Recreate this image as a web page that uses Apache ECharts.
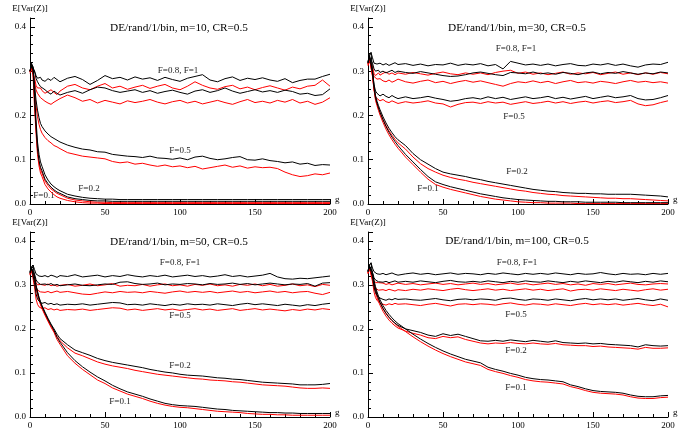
<!DOCTYPE html>
<html>
<head>
<meta charset="utf-8">
<script src="https://cdn.jsdelivr.net/npm/echarts@6/dist/echarts.min.js"></script>
<style>html,body{margin:0;padding:0;background:#fff}#c{width:697px;height:432px}</style>
</head>
<body>
<div id="c"></div>
<script>
// generation g (x values shared by all lines)
const G = [0,1,2,3,4,5,6,7,8,10,12,14,16,18,20,
  25,30,35,40,45,50,55,60,65,70,75,80,85,90,95,100,105,110,115,120,125,130,135,140,145,150,155,160,165,170,175,180,185,190,195,200];

const panelTitles = ['DE/rand/1/bin, m=10, CR=0.5','DE/rand/1/bin, m=30, CR=0.5','DE/rand/1/bin, m=50, CR=0.5','DE/rand/1/bin, m=100, CR=0.5'];
const yTickLabels = ['0.0','0.1','0.2','0.3','0.4'];
const xTickLabels = ['0','50','100','150','200'];

// ---------- m = 10 ----------
const m10_F1_black = [.300,.312,.316,.300,.290,.284,.282,.286,.280,.277,.283,.279,.286,.281,.276,
  .284,.288,.281,.270,.279,.290,.283,.286,.280,
  .287,.282,.285,.279,.286,.281,.277,.284,.288,
  .292,.280,.276,.283,.287,.279,.284,.281,.285,
  .280,.277,.283,.274,.279,.282,.282,.288,.293];
const m10_F1_red = [.300,.310,.306,.285,.268,.262,.258,.262,.256,.250,.254,.258,.252,.247,.255,
  .266,.270,.262,.258,.266,.272,.262,.266,.259,
  .264,.268,.261,.266,.270,.262,.258,.266,.276,
  .268,.262,.259,.265,.268,.260,.264,.258,.263,
  .267,.262,.257,.264,.260,.266,.268,.280,.266];
const m10_F08_black = [.300,.316,.318,.300,.284,.276,.270,.265,.262,.258,.252,.248,.255,.250,.246,
  .252,.256,.250,.258,.264,.262,.256,.252,.255,
  .258,.252,.256,.250,.254,.257,.252,.248,.255,
  .258,.252,.256,.262,.255,.250,.254,.258,.253,
  .256,.252,.257,.254,.248,.250,.245,.247,.260];
const m10_F08_red = [.298,.305,.300,.275,.258,.250,.246,.240,.236,.232,.228,.225,.230,.234,.238,
  .246,.240,.232,.236,.228,.234,.230,.226,.233,
  .229,.232,.236,.230,.226,.231,.234,.228,.232,
  .226,.230,.234,.229,.225,.231,.236,.229,.232,
  .228,.234,.230,.236,.228,.232,.225,.230,.240];
const m10_F05_black = [.300,.312,.305,.270,.235,.212,.195,.182,.175,.165,.158,.152,.148,.144,.140,
  .133,.128,.124,.122,.118,.117,.112,.110,.108,
  .107,.105,.108,.104,.103,.101,.104,.100,.106,
  .108,.103,.100,.102,.105,.107,.100,.099,.102,
  .098,.096,.093,.095,.090,.092,.087,.089,.088];
const m10_F05_red = [.298,.308,.300,.260,.222,.197,.180,.168,.160,.150,.143,.138,.132,.129,.125,
  .116,.112,.108,.106,.104,.102,.096,.093,.095,
  .090,.092,.088,.085,.088,.084,.086,.082,.085,
  .079,.082,.085,.088,.083,.086,.081,.084,.082,
  .083,.080,.072,.066,.062,.064,.068,.066,.070];
const m10_F02_black = [.300,.315,.310,.250,.190,.140,.112,.095,.085,.066,.054,.045,.039,.034,.030,
  .022,.018,.015,.013,.012,.011,.011,.010,.010,
  .010,.010,.010,.010,.010,.010,.010,.010,.010,
  .010,.010,.010,.010,.010,.010,.010,.010,.010,
  .010,.010,.010,.010,.010,.010,.010,.010,.010];
const m10_F02_red = [.298,.310,.300,.235,.172,.122,.094,.078,.070,.052,.042,.034,.029,.024,.021,
  .013,.009,.007,.005,.004,.004,.003,.003,.003,
  .003,.003,.003,.003,.003,.003,.003,.003,.003,
  .003,.003,.003,.003,.003,.003,.003,.003,.003,
  .003,.003,.003,.003,.003,.003,.003,.003,.003];
const m10_F01_black = [.300,.318,.308,.240,.175,.125,.098,.083,.075,.056,.046,.038,.032,.027,.024,
  .016,.012,.010,.008,.007,.007,.006,.006,.006,
  .006,.006,.006,.006,.006,.006,.006,.006,.006,
  .006,.006,.006,.006,.006,.006,.006,.006,.006,
  .006,.006,.006,.006,.006,.006,.006,.006,.006];
const m10_F01_red = [.295,.305,.292,.220,.160,.112,.086,.070,.062,.044,.034,.027,.021,.016,.013,
  .008,.005,.003,.002,.002,.001,.001,.001,.001,
  .001,.001,.001,.001,.001,.001,.001,.001,.001,
  .001,.001,.001,.001,.001,.001,.001,.001,.001,
  .001,.001,.001,.001,.001,.001,.001,.001,.001];

// ---------- m = 30 ----------
const m30_F1_black = [.320,.336,.342,.330,.318,.314,.316,.312,.318,.314,.317,.313,.316,.319,.315,
  .317,.313,.316,.312,.315,.314,.318,.313,.316,
  .314,.317,.312,.315,.305,.322,.318,.314,.316,
  .313,.316,.312,.315,.317,.313,.312,.316,.314,
  .317,.313,.316,.312,.309,.314,.316,.315,.320];
const m30_F1_red = [.316,.328,.330,.310,.295,.290,.293,.296,.291,.295,.298,.293,.296,.292,.296,
  .293,.297,.294,.291,.295,.298,.294,.292,.296,
  .293,.296,.292,.297,.300,.302,.295,.298,.293,
  .296,.292,.295,.298,.293,.296,.294,.297,.292,
  .295,.298,.293,.296,.292,.296,.293,.297,.294];
const m30_F08_black = [.318,.332,.335,.318,.305,.300,.298,.302,.297,.300,.296,.299,.302,.297,.300,
  .297,.295,.299,.296,.293,.290,.288,.289,.292,
  .296,.298,.295,.292,.290,.297,.296,.294,.298,
  .294,.296,.293,.297,.295,.292,.296,.298,.294,
  .297,.295,.299,.296,.293,.296,.294,.298,.296];
const m30_F08_red = [.312,.325,.322,.300,.288,.284,.282,.279,.283,.278,.276,.280,.275,.278,.282,
  .276,.273,.277,.280,.274,.277,.272,.276,.279,
  .275,.278,.274,.270,.266,.272,.276,.274,.278,
  .274,.277,.272,.276,.279,.274,.276,.273,.277,
  .275,.272,.276,.279,.275,.277,.274,.276,.273];
const m30_F05_black = [.318,.334,.338,.300,.270,.255,.250,.246,.244,.248,.243,.240,.245,.241,.238,
  .242,.238,.240,.243,.239,.236,.232,.234,.238,
  .240,.237,.242,.238,.241,.236,.239,.242,.238,
  .240,.243,.238,.241,.237,.240,.243,.238,.241,
  .244,.240,.242,.245,.238,.235,.236,.240,.245];
const m30_F05_red = [.314,.328,.330,.290,.258,.243,.238,.235,.233,.236,.231,.229,.233,.230,.227,
  .231,.228,.230,.233,.228,.226,.219,.225,.229,
  .230,.227,.231,.228,.230,.225,.228,.231,.227,
  .229,.232,.228,.231,.227,.230,.232,.228,.231,
  .233,.229,.231,.234,.226,.222,.224,.229,.233];
const m30_F02_black = [.322,.336,.342,.300,.268,.245,.232,.222,.213,.197,.183,.171,.161,.152,.145,
  .132,.114,.100,.090,.080,.072,.068,.065,.062,
  .058,.055,.051,.048,.045,.042,.039,.036,.033,
  .031,.029,.028,.026,.025,.024,.024,.023,.023,
  .022,.022,.022,.022,.021,.020,.019,.018,.016];
const m30_F02_red = [.318,.330,.334,.292,.262,.238,.226,.216,.207,.191,.177,.165,.155,.146,.138,
  .124,.106,.091,.080,.072,.065,.060,.056,.053,
  .049,.046,.043,.040,.037,.034,.031,.029,.026,
  .024,.022,.021,.019,.018,.017,.016,.015,.014,
  .013,.013,.012,.012,.011,.010,.009,.008,.007];
const m30_F01_black = [.320,.334,.338,.296,.264,.240,.228,.217,.207,.190,.175,.162,.151,.141,.132,
  .112,.095,.078,.062,.050,.044,.039,.035,.031,
  .027,.023,.020,.017,.014,.012,.010,.009,.008,
  .007,.006,.006,.005,.005,.005,.004,.004,.004,
  .004,.004,.003,.003,.003,.003,.003,.003,.003];
const m30_F01_red = [.316,.328,.330,.288,.258,.234,.222,.211,.201,.184,.169,.156,.145,.135,.126,
  .106,.089,.072,.056,.044,.038,.033,.029,.025,
  .021,.017,.014,.011,.009,.007,.005,.004,.003,
  .003,.002,.002,.002,.002,.001,.001,.001,.001,
  .001,.001,.001,.001,.001,.001,.001,.001,.001];

// ---------- m = 50 ----------
const m50_F1_black = [.330,.340,.345,.335,.325,.322,.320,.323,.319,.321,.318,.322,.320,.317,.321,
  .319,.323,.318,.320,.322,.318,.321,.319,.323,
  .320,.318,.321,.319,.322,.318,.320,.322,.319,
  .321,.318,.320,.323,.319,.321,.318,.320,.322,
  .326,.318,.314,.313,.315,.314,.316,.318,.320];
const m50_F1_red = [.326,.335,.336,.320,.305,.300,.298,.301,.297,.299,.302,.298,.300,.297,.299,
  .301,.297,.299,.302,.298,.300,.303,.297,.299,
  .298,.301,.297,.300,.302,.298,.300,.297,.301,
  .299,.302,.298,.300,.297,.301,.299,.302,.298,
  .301,.297,.299,.302,.298,.300,.296,.301,.299];
const m50_F08_black = [.328,.338,.342,.325,.312,.306,.304,.301,.305,.302,.300,.303,.299,.301,.298,
  .300,.302,.299,.298,.300,.302,.301,.306,.307,
  .303,.301,.302,.304,.300,.302,.301,.303,.302,
  .300,.303,.301,.302,.304,.301,.303,.300,.302,
  .304,.302,.300,.302,.301,.303,.297,.304,.305];
const m50_F08_red = [.324,.332,.332,.310,.295,.288,.286,.284,.287,.283,.285,.282,.284,.286,.283,
  .285,.282,.279,.278,.281,.284,.282,.285,.283,
  .284,.282,.285,.283,.281,.284,.286,.283,.285,
  .283,.285,.282,.284,.286,.283,.285,.282,.284,
  .286,.283,.285,.282,.284,.285,.281,.278,.283];
const m50_F05_black = [.326,.338,.340,.305,.280,.268,.263,.261,.258,.260,.256,.258,.255,.257,.254,
  .256,.255,.257,.254,.256,.258,.260,.259,.255,
  .256,.254,.257,.255,.253,.256,.254,.257,.255,
  .256,.254,.257,.255,.253,.256,.258,.255,.257,
  .255,.253,.256,.254,.252,.255,.253,.256,.258];
const m50_F05_red = [.322,.334,.334,.295,.268,.256,.250,.248,.246,.248,.244,.246,.243,.245,.242,
  .244,.243,.245,.242,.244,.246,.248,.247,.243,
  .245,.242,.244,.246,.243,.245,.242,.244,.246,
  .243,.245,.242,.244,.246,.242,.244,.246,.243,
  .245,.243,.241,.244,.242,.245,.243,.246,.244];
const m50_F02_black = [.330,.340,.345,.320,.300,.285,.272,.262,.253,.238,.224,.211,.200,.188,.178,
  .164,.152,.146,.140,.133,.128,.124,.121,.118,
  .115,.112,.108,.105,.102,.100,.097,.095,.094,
  .093,.091,.089,.088,.086,.085,.083,.081,.079,
  .078,.077,.076,.075,.073,.073,.073,.074,.076];
const m50_F02_red = [.326,.334,.338,.314,.294,.280,.267,.257,.248,.233,.219,.206,.195,.183,.173,
  .157,.145,.139,.132,.125,.120,.116,.113,.110,
  .106,.103,.100,.097,.095,.093,.091,.089,.087,
  .086,.084,.083,.082,.080,.079,.077,.075,.073,
  .072,.071,.070,.068,.066,.065,.065,.066,.065];
const m50_F01_black = [.328,.338,.342,.318,.298,.283,.270,.260,.251,.236,.222,.209,.197,.181,.170,
  .146,.128,.114,.102,.091,.082,.072,.064,.057,
  .052,.047,.041,.036,.031,.028,.026,.025,.024,
  .022,.020,.018,.017,.015,.014,.013,.012,.011,
  .010,.010,.009,.009,.008,.008,.008,.008,.008];
const m50_F01_red = [.324,.332,.335,.312,.292,.278,.265,.255,.246,.231,.217,.204,.192,.176,.165,
  .139,.122,.108,.096,.084,.076,.066,.059,.052,
  .047,.042,.036,.031,.027,.024,.022,.021,.019,
  .017,.015,.013,.012,.011,.010,.008,.007,.006,
  .006,.005,.005,.004,.004,.004,.004,.004,.004];

// ---------- m = 100 ----------
const m100_F1_black = [.332,.345,.350,.338,.330,.327,.325,.328,.324,.326,.323,.325,.327,.324,.322,
  .325,.327,.324,.326,.323,.325,.327,.324,.326,
  .325,.323,.326,.324,.327,.325,.323,.326,.324,
  .326,.324,.327,.325,.323,.326,.324,.325,.328,
  .325,.323,.326,.324,.325,.323,.326,.324,.326];
const m100_F1_red = [.328,.340,.342,.322,.310,.305,.303,.305,.302,.304,.301,.303,.300,.302,.304,
  .301,.303,.300,.302,.304,.301,.303,.300,.302,
  .304,.301,.303,.300,.302,.304,.301,.303,.300,
  .302,.304,.301,.303,.300,.302,.299,.303,.301,
  .303,.300,.302,.304,.301,.300,.302,.303,.302];
const m100_F08_black = [.330,.342,.346,.328,.316,.311,.309,.307,.310,.306,.308,.305,.307,.309,.306,
  .308,.306,.309,.307,.305,.308,.310,.307,.306,
  .308,.306,.309,.307,.305,.308,.306,.309,.307,
  .306,.309,.307,.305,.308,.306,.309,.307,.305,
  .308,.306,.309,.307,.305,.308,.306,.309,.307];
const m100_F08_red = [.326,.338,.338,.312,.298,.292,.290,.288,.291,.289,.287,.290,.288,.286,.289,
  .287,.290,.288,.291,.289,.287,.290,.292,.289,
  .287,.289,.291,.288,.290,.287,.289,.291,.288,
  .290,.287,.289,.291,.286,.289,.290,.288,.291,
  .289,.287,.290,.288,.286,.289,.291,.288,.290];
const m100_F05_black = [.330,.342,.346,.318,.295,.282,.276,.272,.270,.267,.265,.268,.266,.269,.267,
  .268,.266,.265,.267,.269,.266,.264,.267,.268,
  .266,.268,.267,.265,.269,.270,.267,.265,.268,
  .267,.265,.268,.266,.264,.267,.269,.266,.268,
  .266,.268,.265,.267,.269,.266,.264,.268,.265];
const m100_F05_red = [.326,.338,.340,.308,.284,.271,.265,.261,.258,.256,.254,.257,.255,.258,.256,
  .257,.255,.253,.256,.258,.255,.252,.256,.257,
  .255,.257,.256,.254,.257,.259,.256,.254,.257,
  .256,.254,.257,.255,.253,.256,.258,.255,.257,
  .255,.257,.254,.256,.258,.255,.253,.256,.250];
const m100_F02_black = [.332,.345,.350,.325,.305,.290,.278,.268,.260,.246,.235,.226,.219,.213,.208,
  .200,.196,.192,.186,.183,.189,.185,.188,.183,
  .178,.173,.172,.174,.172,.175,.173,.171,.174,
  .172,.170,.173,.169,.168,.167,.168,.166,.167,
  .165,.164,.163,.162,.159,.164,.162,.161,.162];
const m100_F02_red = [.328,.338,.342,.318,.298,.283,.271,.262,.254,.240,.229,.220,.213,.207,.202,
  .195,.190,.186,.180,.178,.183,.180,.182,.176,
  .172,.168,.166,.168,.167,.169,.167,.166,.168,
  .166,.165,.167,.164,.163,.162,.162,.160,.161,
  .159,.158,.157,.156,.154,.158,.156,.156,.157];
const m100_F01_black = [.330,.343,.347,.328,.310,.296,.284,.274,.266,.253,.242,.233,.225,.218,.212,
  .200,.188,.177,.167,.158,.150,.143,.137,.131,
  .127,.123,.113,.108,.104,.099,.095,.090,.087,
  .085,.084,.082,.080,.073,.069,.064,.060,.058,
  .057,.056,.054,.050,.047,.046,.046,.048,.049];
const m100_F01_red = [.326,.336,.340,.320,.302,.288,.277,.268,.260,.247,.236,.227,.219,.212,.206,
  .194,.182,.171,.161,.152,.144,.137,.131,.125,
  .121,.117,.108,.103,.099,.094,.090,.085,.082,
  .080,.079,.077,.075,.069,.065,.060,.056,.054,
  .053,.052,.050,.046,.043,.042,.042,.044,.045];

const BLACK = '#000000', RED = '#ff0000';
const SERIF = '"Liberation Serif","DejaVu Serif",serif';

const panelLines = [
  [m10_F1_red,m10_F08_red,m10_F05_red,m10_F02_red,m10_F01_red,m10_F1_black,m10_F08_black,m10_F05_black,m10_F02_black,m10_F01_black],
  [m30_F1_red,m30_F08_red,m30_F05_red,m30_F02_red,m30_F01_red,m30_F1_black,m30_F08_black,m30_F05_black,m30_F02_black,m30_F01_black],
  [m50_F1_red,m50_F08_red,m50_F05_red,m50_F02_red,m50_F01_red,m50_F1_black,m50_F08_black,m50_F05_black,m50_F02_black,m50_F01_black],
  [m100_F1_red,m100_F08_red,m100_F05_red,m100_F02_red,m100_F01_red,m100_F1_black,m100_F08_black,m100_F05_black,m100_F02_black,m100_F01_black]
];

const grids = [
  {left:30, top:18, width:300, height:186},
  {left:368, top:18, width:300, height:186},
  {left:30, top:232, width:300, height:185},
  {left:368, top:232, width:300, height:185}
];

const xAxes = [], yAxes = [], series = [];
for (let i = 0; i < 4; i++) {
  xAxes.push({
    type:'value', gridIndex:i, min:0, max:200, interval:50,
    name:'g', nameLocation:'end', nameGap:5,
    nameTextStyle:{fontFamily:SERIF, fontSize:9, color:'#000', verticalAlign:'bottom'},
    axisLine:{show:true, onZero:false, lineStyle:{color:'#000', width:1}},
    axisTick:{show:true, inside:true, length:5, lineStyle:{color:'#000', width:1}},
    minorTick:{show:true, splitNumber:5, length:3, lineStyle:{color:'#000', width:1}},
    splitLine:{show:false},
    axisLabel:{color:'#000', fontFamily:SERIF, fontSize:9, margin:4,
      formatter:v => xTickLabels[Math.round(v/50)] ?? ''}
  });
  yAxes.push({
    type:'value', gridIndex:i, min:0, max:0.42, interval:0.1,
    name:'E[Var(Z)]', nameLocation:'end', nameGap:5,
    nameTextStyle:{fontFamily:SERIF, fontSize:9, color:'#000', align:'center', verticalAlign:'bottom'},
    axisLine:{show:true, onZero:false, lineStyle:{color:'#000', width:1}},
    axisTick:{show:true, inside:true, length:5, lineStyle:{color:'#000', width:1}},
    minorTick:{show:true, splitNumber:5, length:3, lineStyle:{color:'#000', width:1}},
    splitLine:{show:false},
    axisLabel:{color:'#000', fontFamily:SERIF, fontSize:9, margin:4, showMaxLabel:false,
      formatter:v => yTickLabels[Math.round(v*10)] ?? ''}
  });
  panelLines[i].forEach((arr, k) => {
    series.push({
      type:'line', xAxisIndex:i, yAxisIndex:i,
      data:G.map((g, j) => [g, arr[j]]),
      showSymbol:false, symbol:'none', smooth:false,
      lineStyle:{width:1, color:k < 5 ? RED : BLACK},
      itemStyle:{color:k < 5 ? RED : BLACK},
      z: k < 5 ? 2 : 3
    });
  });
}

function txt(t, x, y, size, color) {
  return {type:'text', x:x, y:y, silent:true,
    style:{text:t, font:size + 'px ' + SERIF, fill:color,
      align:'center', verticalAlign:'middle', textAlign:'center', textVerticalAlign:'middle'}};
}
const titlePos = [[179,28],[517,28],[179,242],[517,241]];
const graphics = panelTitles.map((t, i) => txt(t, titlePos[i][0], titlePos[i][1], 11.3, '#000'));
const fLabels = [
  ['F=0.8, F=1',178,71],['F=0.5',180,151],['F=0.2',89,189],['F=0.1',44,196],
  ['F=0.8, F=1',516,49],['F=0.5',514,117],['F=0.2',517,172],['F=0.1',428,189],
  ['F=0.8, F=1',180,263],['F=0.5',180,316],['F=0.2',180,366],['F=0.1',120,402],
  ['F=0.8, F=1',517,263],['F=0.5',516,315],['F=0.2',516,351],['F=0.1',516,388]
];
fLabels.forEach(l => graphics.push(txt(l[0], l[1], l[2], 9, '#222')));

const chart = echarts.init(document.getElementById('c'), null, {renderer:'canvas'});
chart.setOption({
  animation:false,
  backgroundColor:'#ffffff',
  grid:grids, xAxis:xAxes, yAxis:yAxes, series:series,
  graphic:graphics
});
</script>
</body>
</html>
